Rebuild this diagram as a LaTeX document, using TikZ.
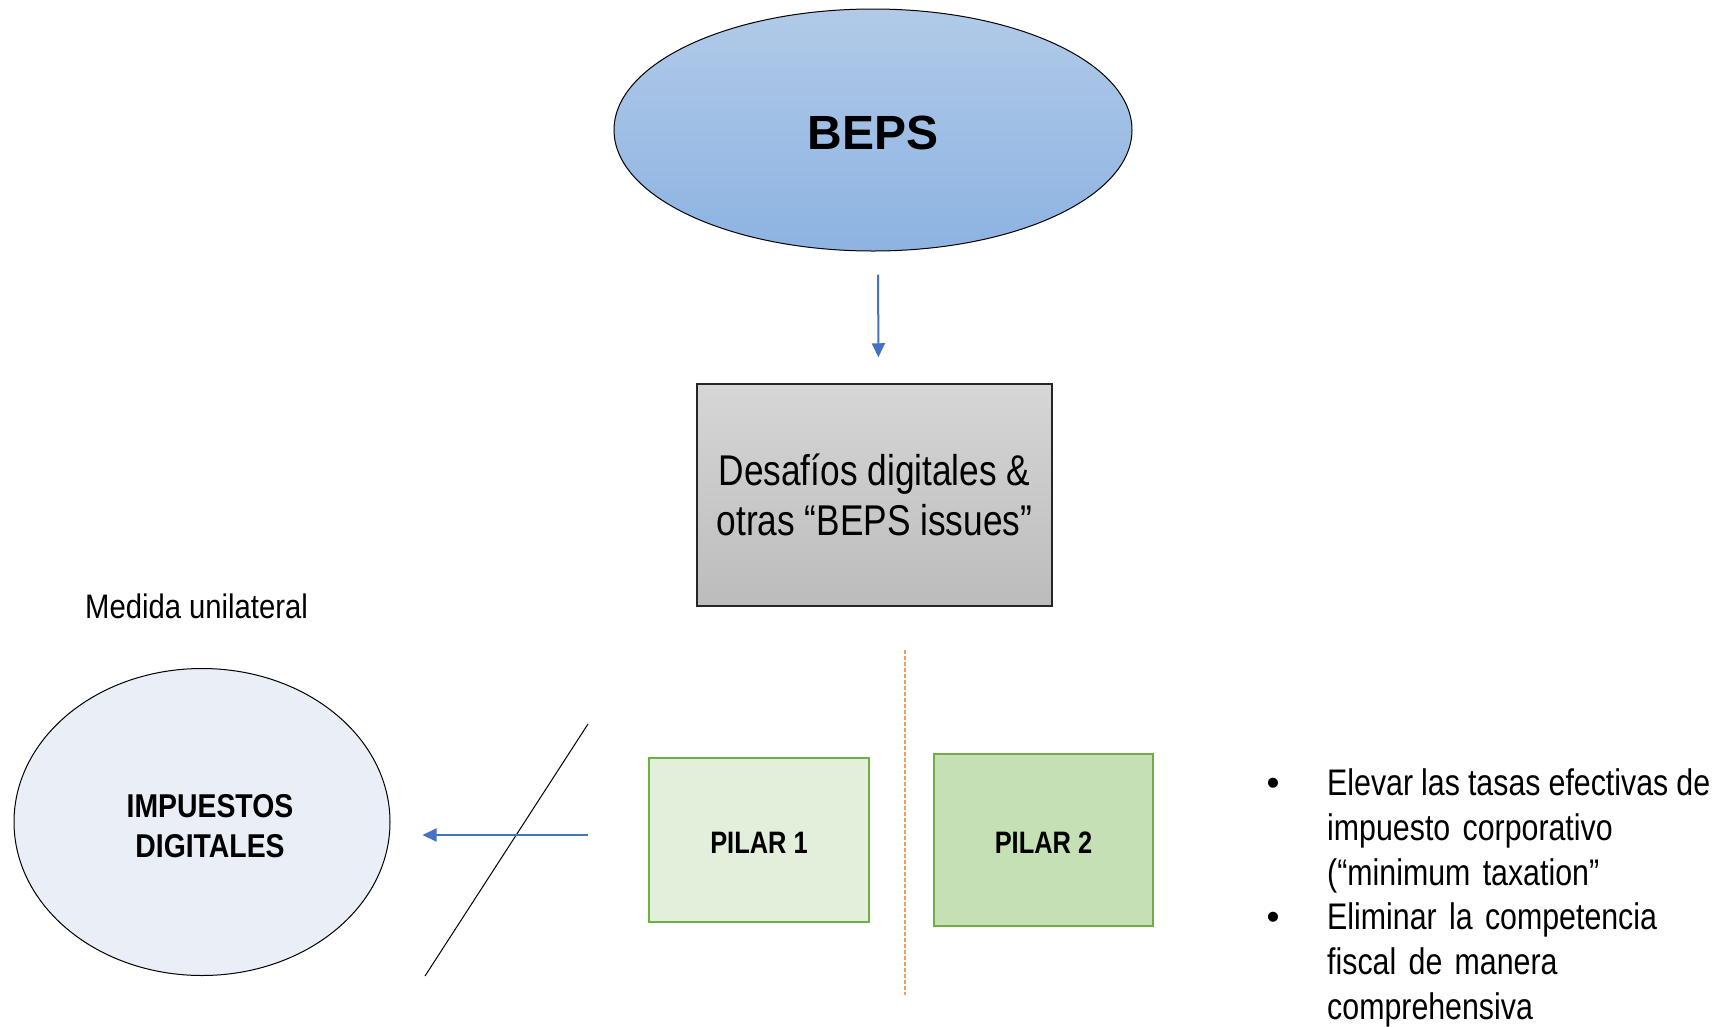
\documentclass[tikz,border=0pt]{standalone}
\usepackage{fontspec}
\setmainfont{Liberation Sans}
\newfontfamily\narrowfont[FakeStretch=0.82]{Liberation Sans}
\newfontfamily\medfont[FakeStretch=0.86]{Liberation Sans}
\usetikzlibrary{shapes.geometric,arrows.meta}
\definecolor{bepsTop}{HTML}{B1CAE8}
\definecolor{bepsBot}{HTML}{8DB3E2}
\definecolor{grayTop}{HTML}{D6D6D6}
\definecolor{grayBot}{HTML}{BCBCBC}
\definecolor{circFill}{HTML}{E9EEF7}
\definecolor{pOneFill}{HTML}{E2EFDA}
\definecolor{pTwoFill}{HTML}{C5E0B4}
\definecolor{pBorder}{HTML}{70AD47}
\definecolor{arrBlue}{HTML}{4472C4}
\definecolor{dashOrange}{HTML}{F19B5E}
\tikzset{
  bluearrow/.style={draw=arrBlue, line width=2pt, -{Triangle[length=14pt,width=13pt]}},
  pilarbox/.style={rectangle, draw=pBorder, line width=1.5pt, inner sep=0pt},
  pilartext/.style={inner sep=0pt, yshift=-3pt, font=\narrowfont\fontsize{31}{36}\selectfont\bfseries},
  bullettext/.style={anchor=north west, text width=383pt, inner sep=0pt, align=left,
    font=\narrowfont\fontsize{37}{45}\selectfont},
  bulletmark/.style={anchor=base, inner sep=0pt, font=\fontsize{37}{45}\selectfont}
}
\begin{document}
\begin{tikzpicture}[x=1pt,y=-1pt]
\useasboundingbox (0,0) rectangle (1719,1026);
\fill[white] (0,0) rectangle (1719,1026);

\node[ellipse, draw=black, line width=1pt, top color=bepsTop, bottom color=bepsBot,
  minimum width=518pt, minimum height=242pt, inner sep=0pt,
  label={[name=bepstext, inner sep=0pt, yshift=-3pt, font=\fontsize{48}{56}\selectfont\bfseries]center:BEPS}] (beps) at (873,130) {};

\node[rectangle, draw=black!85, line width=1.5pt, top color=grayTop, bottom color=grayBot,
  minimum width=355pt, minimum height=222pt, inner sep=0pt, align=center,
  font=\narrowfont\fontsize{43}{50}\selectfont] (desafios) at (874.5,495)
  {Desafíos digitales \&\\otras “BEPS issues”};

\draw[bluearrow, shorten <=23pt, shorten >=26pt] ([xshift=5pt]beps.south) -- ([xshift=4pt]desafios.north);

\node[anchor=base west, inner sep=0pt, font=\medfont\fontsize{34}{40}\selectfont] (medida) at (85,618) {Medida unilateral};

\node[ellipse, draw=black, line width=1pt, fill=circFill, minimum width=376pt, minimum height=307pt,
  inner sep=0pt,
  label={[name=imptext, inner sep=0pt, xshift=8pt, yshift=-4pt, align=center,
    font=\medfont\fontsize{33}{40}\selectfont\bfseries]center:IMPUESTOS\\DIGITALES}] (imp) at (202,822) {};

\node[pilarbox, fill=pOneFill, minimum width=220pt, minimum height=164pt,
  label={[name=p1text, pilartext]center:PILAR 1}] (p1) at (759,840) {};
\node[pilarbox, fill=pTwoFill, minimum width=219pt, minimum height=172pt,
  label={[name=p2text, pilartext]center:PILAR 2}] (p2) at (1043.5,840) {};

\coordinate (d1) at (905,650);
\coordinate (d2) at (905,995);
\draw[dashOrange, line width=1.3pt, dash pattern=on 4pt off 2pt] (d1) -- (d2);

\coordinate (s1) at (588,724);
\coordinate (s2) at (425,976);
\draw[black, line width=1pt] (s1) -- (s2);

\coordinate (a1) at (588,835);
\draw[bluearrow, shorten >=32pt] (a1) -- (imp.east |- a1);

\node[bulletmark] (b1) at (1273,795) {•};
\node[bullettext] (t1) at (1327,768)
  {\hbox to 383pt{Elevar\hfill las\hfill tasas\hfill efectivas\hfill de}\\impuesto corporativo\\(“minimum taxation”};
\node[bulletmark] (b2) at (1273,929) {•};
\node[bullettext] (t2) at (1327,902)
  {Eliminar la competencia\\fiscal de manera\\comprehensiva};
\end{tikzpicture}
\end{document}
